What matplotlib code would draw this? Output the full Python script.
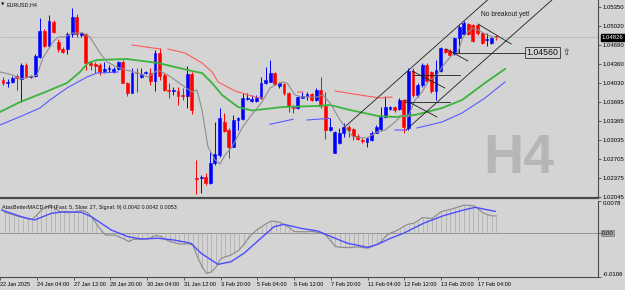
import matplotlib
matplotlib.use('Agg')
import matplotlib.pyplot as plt
import matplotlib.transforms as mtransforms
import numpy as np

plt.rcParams['font.family'] = ['Liberation Sans', 'DejaVu Sans']

# EURUSD H4 candles, oldest first
opens = [1.04083, 1.04036, 1.04053, 1.04152, 1.04095, 1.04343, 1.04129, 1.04152, 1.04487, 1.04934,
         1.04678, 1.05095, 1.04748, 1.04616, 1.04616, 1.04876, 1.05182, 1.04869, 1.04876, 1.04373,
         1.04360, 1.04343, 1.04239, 1.04268, 1.04227, 1.04274, 1.04395, 1.04025, 1.03862, 1.04209,
         1.04129, 1.04199, 1.04209, 1.04070, 1.04557, 1.04169, 1.03909, 1.03886, 1.03897, 1.03822,
         1.03805, 1.04187, 1.02386, 1.02375, 1.02403, 1.02288, 1.02636, 1.02780, 1.03358, 1.03214,
         1.02924, 1.03388, 1.03400, 1.03753, 1.03723, 1.03723, 1.03765, 1.04025, 1.04053, 1.04199,
         1.03978, 1.04013, 1.03862, 1.03619, 1.03591, 1.03775, 1.03810, 1.03839, 1.03735, 1.03909,
         1.03631, 1.03214, 1.02820, 1.02983, 1.03157, 1.03271, 1.03226, 1.03110, 1.03041, 1.03011,
         1.03041, 1.03167, 1.03226, 1.03445, 1.03584, 1.03608, 1.03574, 1.03735, 1.03244, 1.04244,
         1.03822, 1.03996, 1.04343, 1.04227, 1.03897, 1.04244, 1.04616, 1.04591, 1.04546, 1.04807,
         1.04876, 1.05055, 1.05038, 1.05038, 1.04894, 1.04782, 1.04720, 1.04840]
highs = [1.04129, 1.04095, 1.04152, 1.04187, 1.04383, 1.04373, 1.04169, 1.04534, 1.05154, 1.04963,
         1.05211, 1.05125, 1.04789, 1.04661, 1.04921, 1.05328, 1.05229, 1.04921, 1.04904, 1.04400,
         1.04400, 1.04373, 1.04400, 1.04343, 1.04314, 1.04418, 1.04430, 1.04053, 1.04286, 1.04286,
         1.04286, 1.04244, 1.04286, 1.04604, 1.04633, 1.04199, 1.04025, 1.03956, 1.03956, 1.03938,
         1.04326, 1.04227, 1.02693, 1.02433, 1.02473, 1.02837, 1.03358, 1.03591, 1.03504, 1.03244,
         1.03475, 1.03445, 1.03852, 1.03852, 1.03822, 1.03822, 1.04140, 1.04303, 1.04430, 1.04227,
         1.04053, 1.04036, 1.03879, 1.03648, 1.03805, 1.03879, 1.03879, 1.03862, 1.03938, 1.04129,
         1.03879, 1.03417, 1.03202, 1.03244, 1.03331, 1.03301, 1.03244, 1.03145, 1.03070, 1.03098,
         1.03202, 1.03301, 1.03619, 1.03805, 1.03631, 1.03631, 1.03765, 1.03758, 1.04286, 1.04286,
         1.04025, 1.04373, 1.04373, 1.04244, 1.04430, 1.04661, 1.04633, 1.04616, 1.04835, 1.05038,
         1.05112, 1.05067, 1.05055, 1.05055, 1.04921, 1.04894, 1.04824, 1.04860]
lows = [1.03996, 1.03956, 1.04025, 1.03909, 1.03706, 1.04112, 1.04112, 1.04140, 1.04459, 1.04661,
        1.04661, 1.04894, 1.04574, 1.04546, 1.04534, 1.04835, 1.04835, 1.04835, 1.04256, 1.04256,
        1.04199, 1.04169, 1.04199, 1.04227, 1.04209, 1.04256, 1.04025, 1.03805, 1.03852, 1.03879,
        1.04112, 1.04187, 1.03996, 1.03897, 1.04083, 1.03897, 1.03765, 1.03822, 1.03648, 1.03735,
        1.03591, 1.03492, 1.02103, 1.02125, 1.02259, 1.02276, 1.02606, 1.02750, 1.03185, 1.02723,
        1.02914, 1.03214, 1.03388, 1.03735, 1.03706, 1.03706, 1.03747, 1.04013, 1.04043, 1.03996,
        1.03938, 1.03822, 1.03532, 1.03515, 1.03574, 1.03765, 1.03735, 1.03723, 1.03723, 1.03591,
        1.03053, 1.03202, 1.02810, 1.02971, 1.03098, 1.03098, 1.03041, 1.03041, 1.02983, 1.02914,
        1.03028, 1.03157, 1.03202, 1.03417, 1.03567, 1.03532, 1.03567, 1.03167, 1.03214, 1.03793,
        1.03793, 1.03966, 1.04025, 1.03852, 1.03735, 1.04227, 1.04546, 1.04499, 1.04517, 1.04546,
        1.04864, 1.04864, 1.04748, 1.04864, 1.04708, 1.04673, 1.04708, 1.04770]
closes = [1.04036, 1.04053, 1.04117, 1.04112, 1.04343, 1.04129, 1.04152, 1.04499, 1.04934, 1.04678,
          1.05107, 1.04911, 1.04616, 1.04574, 1.04876, 1.05182, 1.04876, 1.04894, 1.04373, 1.04343,
          1.04331, 1.04227, 1.04274, 1.04296, 1.04268, 1.04390, 1.04036, 1.03862, 1.04199, 1.04199,
          1.04187, 1.04222, 1.04070, 1.04557, 1.04152, 1.03909, 1.03897, 1.03909, 1.03810, 1.03805,
          1.04187, 1.03567, 1.02368, 1.02403, 1.02288, 1.02636, 1.02797, 1.03417, 1.03202, 1.02924,
          1.03388, 1.03417, 1.03765, 1.03775, 1.03747, 1.03775, 1.04025, 1.04083, 1.04199, 1.04013,
          1.04025, 1.03852, 1.03631, 1.03591, 1.03793, 1.03810, 1.03839, 1.03735, 1.03909, 1.03631,
          1.03214, 1.03261, 1.03185, 1.03167, 1.03271, 1.03214, 1.03110, 1.03053, 1.03023, 1.03070,
          1.03167, 1.03271, 1.03445, 1.03608, 1.03608, 1.03567, 1.03735, 1.03271, 1.04244, 1.03822,
          1.03996, 1.04343, 1.04070, 1.03897, 1.04256, 1.04633, 1.04574, 1.04517, 1.04807, 1.05008,
          1.05067, 1.04876, 1.04765, 1.04894, 1.04720, 1.04795, 1.04807, 1.04826]

# moving averages (bar position, price), nan = gap
fast_x = [-0.65, 2.17, 3.69, 5.86, 7.38, 8.68, 10.85, 11.94, 13.46, 15.19, 17.36, 18.88, 21.05, 22.57,
          24.74, 26.7, 29.3, 31.47, 33.64, 35.81, 38.85, 41.02, 42.11, 43.19, 44.5, 46.02, 47.1, 48.19,
          49.71, 51.88, 53.61, 56.22, 57.95, 60.56, 61.65, 63.38, 64.9, 68.16, 69.46, 70.98, 73.15,
          74.24, 75.97, 79.01, 81.18, 82.92, 85.09, 86.61, 87.91, 89.43, 90.95, 92.25, 94.2, 95.29,
          97.46, 98.76, 99.85, 101.8, 103.1, 105.06, 107.23]
fast_y = [1.04222, 1.04169, 1.04100, 1.04135, 1.04169, 1.04465, 1.04743, 1.04829, 1.04829, 1.04899,
          1.04899, 1.04829, 1.04551, 1.04395, 1.04308, 1.04256, 1.04204, 1.04135, 1.04256, 1.04169,
          1.03996, 1.03874, 1.03909, 1.03567, 1.02919, 1.02693, 1.02624, 1.02780, 1.02919, 1.03249,
          1.03440, 1.03700, 1.03944, 1.04048, 1.04031, 1.03822, 1.03787, 1.03787, 1.03822, 1.03683,
          1.03388, 1.03266, 1.03093, 1.03075, 1.03179, 1.03214, 1.03353, 1.03475, 1.03440, 1.03735,
          1.03874, 1.04048, 1.04169, 1.04308, 1.04517, 1.04569, 1.04829, 1.04986, 1.04951, 1.04864,
          1.04812]
green_x = [-0.65, 3.69, 8.68, 13.89, 16.71, 18.45, 20.4, 26.92, 33.64, 41.02, 43.19, 45.37, 47.54,
           51.01, 54.05, 60.78, 68.16, 70.98, 75.32, 81.4, 85.09, 89.43, 95.29, 99.63, 104.62, 108.96]
green_y = [1.03527, 1.03700, 1.03857, 1.04031, 1.04222, 1.04378, 1.04430, 1.04447, 1.04378, 1.04239,
           1.04204, 1.04031, 1.03822, 1.03614, 1.03553, 1.03614, 1.03631, 1.03648, 1.03562, 1.03457,
           1.03440, 1.03475, 1.03596, 1.03735, 1.04031, 1.04274]
blue_x = [-0.65, 3.69, 8.03, 10.2, 13.89, 18.23, 20.4, 24.96, np.nan, 57.95, 62.95, np.nan, 65.99,
          70.98, np.nan, 85.09, 87.69, np.nan, 89.86, 95.29, 99.63, 104.62, 108.96]
blue_y = [1.03301, 1.03445, 1.03596, 1.03735, 1.03944, 1.04135, 1.04204, 1.04222, np.nan, 1.03313,
          1.03400, np.nan, 1.03388, 1.03417, np.nan, 1.03214, 1.03214, np.nan, 1.03249, 1.03353,
          1.03509, 1.03770, 1.04048]
red_x = [28.0, 34.1, np.nan, 35.8, 39.5, 43.2, 45.4, 46.7, 50.4, 54.7, 56.4, np.nan, 64.0, 65.1,
         np.nan, 72.1, 77.5, 81.8, 84.4]
red_y = [1.04690, 1.04621, np.nan, 1.04621, 1.04552, 1.04378, 1.04222, 1.04048, 1.03891, 1.03787,
         1.03770, np.nan, 1.03874, 1.03874, np.nan, 1.03891, 1.03822, 1.03770, 1.03787]

# hand-drawn lines: ((bar, price), (bar, price))
drawn_lines = [((73.8, 1.03240), (107.9, 1.05667)),
               ((87.5, 1.03218), (122.0, 1.05675)),
               ((97.7, 1.04560), (113.3, 1.04560)),
               ((103.1, 1.05055), (110.3, 1.04708)),
               ((96.2, 1.04621), (100.9, 1.04413)),
               ((89.0, 1.04169), (99.2, 1.04169)),
               ((88.8, 1.04239), (95.9, 1.03944)),
               ((87.3, 1.03700), (97.0, 1.03700)),
               ((87.3, 1.03735), (94.2, 1.03440))]

price_ticks = [1.05350, 1.05020, 1.04690, 1.04360, 1.04030, 1.03695,
               1.03365, 1.03035, 1.02705, 1.02375, 1.02045]

# MACD main per bar and signal line
macd = [0.00501, 0.00477, 0.00440, 0.00404, 0.00380, 0.00344, 0.00332, 0.00440, 0.00561, 0.00622,
        0.00682, 0.00610, 0.00520, 0.00508, 0.00494, 0.00513, 0.00537, 0.00549, 0.00501, 0.00392,
        0.00223, 0.00077, -0.00044, -0.00044, -0.00048, -0.00092, -0.00140, -0.00201, -0.00152, -0.00145,
        -0.00143, -0.00140, -0.00104, -0.00056, -0.00080, -0.00152, -0.00201, -0.00225, -0.00261, -0.00264,
        -0.00252, -0.00286, -0.00576, -0.00818, -0.00975, -0.00939, -0.00818, -0.00624, -0.00569, -0.00540,
        -0.00479, -0.00407, -0.00286, -0.00128, -0.00007, 0.00090, 0.00162, 0.00235, 0.00295, 0.00283,
        0.00259, 0.00198, 0.00138, 0.00041, 0.00036, 0.00036, 0.00036, 0.00048, 0.00017, 0.00005,
        -0.00056, -0.00189, -0.00322, -0.00339, -0.00348, -0.00348, -0.00339, -0.00329, -0.00346, -0.00365,
        -0.00322, -0.00273, -0.00201, -0.00068, 0.00005, 0.00046, 0.00102, 0.00174, 0.00223, 0.00237,
        0.00307, 0.00380, 0.00368, 0.00356, 0.00440, 0.00520, 0.00549, 0.00578, 0.00610, 0.00646,
        0.00682, 0.00675, 0.00668, 0.00598, 0.00501, 0.00457, 0.00421, 0.00420]
signal_x = [-0.65, 3.69, 6.51, 10.2, 13.02, 16.71, 18.88, 23.23, 26.92, 29.74, 33.43, 36.9, 40.59,
            42.76, 46.45, 49.27, 52.09, 55.78, 58.61, 60.78, 64.47, 68.16, 71.63, 74.67, 79.01, 81.18,
            84.0, 86.82, 91.16, 95.51, 99.85, 102.45, 104.19, 106.79]
signal_y = [0.00561, 0.00399, 0.00319, 0.00482, 0.00520, 0.00506, 0.00399, 0.00077, -0.00085, -0.00140,
            -0.00123, -0.00165, -0.00244, -0.00486, -0.00754, -0.00690, -0.00486, -0.00123, 0.00157,
            0.00215, 0.00119, 0.00053, -0.00109, -0.00244, -0.00341, -0.00269, -0.00123, -0.00002,
            0.00240, 0.00424, 0.00561, 0.00627, 0.00586, 0.00530]

time_tick_bars = [-1, 7, 15, 23, 31, 39, 47, 55, 63, 71, 79, 87, 95, 103]
time_labels = ['22 Jan 2025', '24 Jan 04:00', '27 Jan 12:00', '28 Jan 20:00', '30 Jan 04:00',
               '31 Jan 12:00', '3 Feb 20:00', '5 Feb 04:00', '6 Feb 12:00', '7 Feb 20:00',
               '11 Feb 04:00', '12 Feb 12:00', '13 Feb 20:00', '17 Feb 04:00']

BG = '#d4d4d4'
FRAME = '#4a4a4a'

fig = plt.figure(figsize=(6.25, 2.9), dpi=100, facecolor=BG)
ax = fig.add_axes([0, 92 / 290, 598 / 625, 198 / 290], facecolor=BG)
ax2 = fig.add_axes([0, 13 / 290, 598 / 625, 76 / 290], facecolor=BG)

# price panel
bars = np.arange(len(closes))
o = np.array(opens)
c = np.array(closes)
colors = np.where(c >= o, '#0000ff', '#ff0000')
ax.axhline(closes[-1], color='#b9b9b9', lw=0.6, zorder=0)
ax.vlines(bars, lows, highs, colors=colors, lw=0.7, zorder=2)
ax.bar(bars, c - o, bottom=o, width=0.62, color=colors, edgecolor=colors, linewidth=0.4, zorder=3)

ax.plot(green_x, green_y, color='#3cb43c', lw=1.3, zorder=4)
ax.plot(blue_x, blue_y, color='#5a5aff', lw=0.8, zorder=4)
ax.plot(red_x, red_y, color='#ff5a5a', lw=0.8, zorder=4)
ax.plot(fast_x, fast_y, color='#8e8e8e', lw=0.8, zorder=5)

for (x0, y0), (x1, y1) in drawn_lines:
    ax.plot([x0, x1], [y0, y1], color='#1e1e1e', lw=0.6, zorder=6)

ax.text(103.7, 1.05220, 'No breakout yet!', fontsize=4.8, color='#1a1a1a', va='center', ha='left')
ax.text(113.6, 1.04560, '1.04560', fontsize=6.3, color='#111111', va='center', ha='left',
        bbox=dict(boxstyle='square,pad=0.15', facecolor=BG, edgecolor='#333333', lw=0.6))
ax.text(121.5, 1.04560, '\u21e7', fontsize=6.5, color='#222222', va='center', ha='left',
        family=['DejaVu Sans'])
ax.text(0.808, 0.126, 'H4', transform=ax.transAxes, fontsize=40, fontweight='bold',
        color='#b6b6b6', va='baseline', ha='left', zorder=1)
ax.text(0.002, 0.985, '\u25bc', transform=ax.transAxes, fontsize=3.2, va='top', ha='left',
        family=['DejaVu Sans'], color='#222222')
ax.text(0.011, 0.987, 'EURUSD,H4', transform=ax.transAxes, fontsize=3.9, va='top', ha='left',
        color='#111111')

ax.set_xlim(-0.65, 129.15)
ax.set_ylim(1.02033, 1.05472)
ax.yaxis.tick_right()
ax.set_yticks(price_ticks)
ax.set_yticklabels([f'{v:.5f}' for v in price_ticks])
ax.tick_params(axis='y', labelsize=4.3, length=2, width=0.6, color=FRAME, pad=1.5)
ax.set_xticks([])
for side in ('top', 'left'):
    ax.spines[side].set_visible(False)
ax.spines['right'].set_color(FRAME)
ax.spines['right'].set_linewidth(0.8)
ax.spines['bottom'].set_color(FRAME)
ax.spines['bottom'].set_linewidth(1.6)

trans = mtransforms.blended_transform_factory(ax.transAxes, ax.transData)
ax.text(1.006, closes[-1], f'{closes[-1]:.5f}', transform=trans, fontsize=4.3, color='white',
        va='center', ha='left', bbox=dict(boxstyle='square,pad=0.15', facecolor='black', edgecolor='black'))

# MACD panel
ax2.axhline(0, color='#8a8a8a', lw=0.6, zorder=1)
ax2.vlines(bars, 0, macd, colors='#aaaaaa', lw=0.5, zorder=2)
ax2.plot(bars, macd, color='#8a8a8a', lw=0.8, zorder=3)
ax2.plot(signal_x, signal_y, color='#4c4cff', lw=1.0, zorder=4)
ax2.text(0.004, 0.95, 'AtasBetterMACD-H4 (Fast: 5, Slow: 27, Signal: 9) 0.0042 0.0042 0.0053',
         transform=ax2.transAxes, fontsize=3.9, va='top', ha='left', color='#111111')

ax2.set_xlim(-0.65, 129.15)
ax2.set_ylim(-0.0106, 0.0078)
ax2.yaxis.tick_right()
ax2.set_yticks([0.0078, 0.0, -0.0106])
ax2.set_yticklabels(['0.0078', '', '-0.0106'])
ax2.tick_params(axis='y', labelsize=4.3, length=2, width=0.6, color=FRAME, pad=1.5)
labs = ax2.get_yticklabels()
labs[0].set_va('top')
labs[2].set_va('bottom')
trans2 = mtransforms.blended_transform_factory(ax2.transAxes, ax2.transData)
ax2.text(1.006, 0.0, '0.00', transform=trans2, fontsize=4.3, color='#111111', va='center', ha='left',
         bbox=dict(boxstyle='square,pad=0.12', facecolor='#a6a6a6', edgecolor='#777777', lw=0.5))

ax2.set_xticks(time_tick_bars)
ax2.set_xticklabels(time_labels)
ax2.tick_params(axis='x', labelsize=4.0, length=2, width=0.6, color=FRAME, pad=1.5)
for lab in ax2.get_xticklabels():
    lab.set_ha('left')
ax2.spines['top'].set_visible(False)
ax2.spines['left'].set_visible(False)
for side in ('right', 'bottom'):
    ax2.spines[side].set_color(FRAME)
    ax2.spines[side].set_linewidth(0.8)

fig.savefig('out.png', dpi=100, facecolor=BG)
